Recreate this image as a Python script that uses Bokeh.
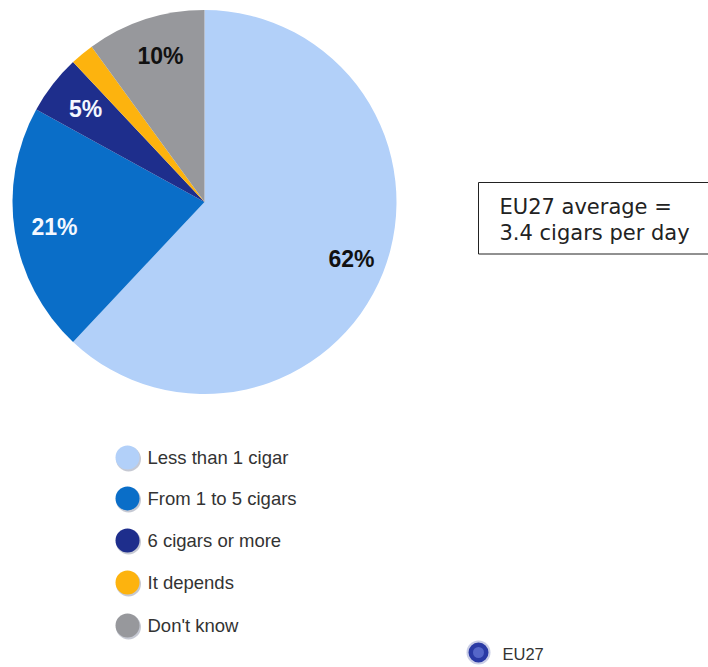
import math
from bokeh.plotting import figure
from bokeh.models import Range1d
from bokeh.core.properties import value
from bokeh.embed import file_html
from bokeh.resources import INLINE

categories = ["Less than 1 cigar", "From 1 to 5 cigars", "6 cigars or more", "It depends", "Don't know"]
shares = [62, 21, 5, 2, 10]
slice_labels = ["62%", "21%", "5%", "", "10%"]
colors = ["#B2D0F9", "#0A6EC8", "#1E2E8C", "#FDB30E", "#97989C"]
label_colors = ["#111111", "#F4F8FF", "#F4F8FF", "#111111", "#111111"]
box_lines = ["EU27 average =", "3.4 cigars per day"]
region = "EU27"

W, H = 708, 667
p = figure(width=W, height=H, output_backend="svg", toolbar_location=None,
           x_range=Range1d(0, W), y_range=Range1d(0, H),
           min_border=0, outline_line_color=None, background_fill_color="white",
           border_fill_color="white")
p.axis.visible = False
p.grid.visible = False

def Y(py):
    return H - py

SANS = value("Liberation Sans")

# pie
cx, cy, r = 204, Y(201.5), 192
total = sum(shares)
start = math.pi / 2
starts, ends = [], []
for s in shares:
    end = start - s / total * 2 * math.pi
    starts.append(start)
    ends.append(end)
    start = end
p.wedge(x=[cx] * 5, y=[cy] * 5, radius=r, start_angle=ends, end_angle=starts,
        fill_color=colors, line_color=None)

# slice labels
label_x = [351, 54, 85, 0, 160]
label_y = [258, 226, 108, 0, 55]
for t, lx, ly, c in zip(slice_labels, label_x, label_y, label_colors):
    if t:
        p.text(x=[lx], y=[Y(ly)], text=[t], text_color=c, text_font=SANS,
               text_font_style="bold", text_font_size="23px",
               text_align="center", text_baseline="middle")

# legend
leg_y = [457, 498, 540, 582, 625]
for name, c, ly in zip(categories, colors, leg_y):
    p.circle(x=[128], y=[Y(ly + 1.5)], radius=12.5, fill_color="#B8BCC8", fill_alpha=0.8, line_color=None)
    p.circle(x=[127], y=[Y(ly)], radius=12, fill_color=c, line_color=None)
    p.text(x=[147], y=[Y(ly)], text=[name], text_color="#333333", text_font=SANS,
           text_font_size="18.5px", text_align="left", text_baseline="middle")

# average box
p.quad(left=[478], right=[720], top=[Y(182)], bottom=[Y(253.5)],
       fill_color="white", line_color="#222222", line_width=1)
for line, ly in zip(box_lines, [206, 232.5]):
    p.text(x=[499], y=[Y(ly)], text=[line], text_color="#222222", text_font=value("DejaVu Sans"),
           text_font_size="21px", text_align="left", text_baseline="middle")

# region marker
p.circle(x=[478], y=[Y(652)], radius=12, fill_color="#C9CDE6", line_color=None)
p.circle(x=[478], y=[Y(652)], radius=10, fill_color="#2A3AA5", line_color=None)
p.circle(x=[478], y=[Y(652)], radius=5.5, fill_color="#5566C8", line_color=None)
p.text(x=[502], y=[Y(653)], text=[region], text_color="#333333", text_font=SANS,
       text_font_size="16.5px", text_align="left", text_baseline="middle")

open("out.html", "w").write(file_html(p, INLINE))
